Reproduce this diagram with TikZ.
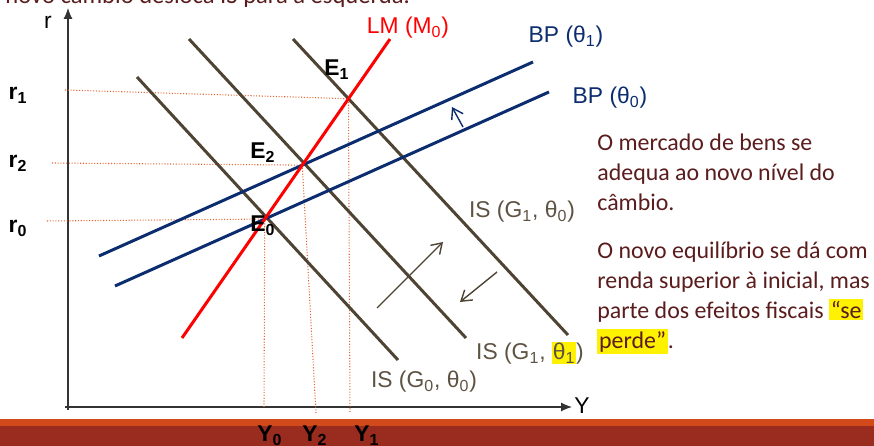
\documentclass[tikz,border=0pt]{standalone}
\usepackage{fontspec}
\setmainfont{Liberation Sans}
\newfontfamily\bodyfont{Carlito}
\usetikzlibrary{arrows.meta}
\definecolor{bpblue}{HTML}{0B2C6E}
\definecolor{isbrown}{HTML}{4F4434}
\definecolor{islabel}{HTML}{5E5343}
\definecolor{guide}{HTML}{E4622E}
\definecolor{bodytext}{HTML}{5A1C1C}
\definecolor{bandorange}{HTML}{D2491A}
\definecolor{banddark}{HTML}{9A2B1F}
\tikzset{
  axis/.style={-{Latex[length=2.2mm,width=1.8mm]}, line width=0.6pt, color=black!80},
  lmline/.style={line width=1.7pt, color=red},
  bpline/.style={line width=1.7pt, color=bpblue},
  isline/.style={line width=1.7pt, color=isbrown},
  shiftarrow/.style={-{Straight Barb[length=2mm,width=2.6mm]}, line width=0.8pt, color=isbrown},
  guideline/.style={densely dotted, line width=0.6pt, color=guide},
  axlabel/.style={font=\fontsize{13}{15}\selectfont\bfseries, inner sep=0pt},
  curvelabel/.style={font=\fontsize{13}{15}\selectfont, inner sep=0pt},
  bodypar/.style={font=\bodyfont\fontsize{13.6}{16.9}\selectfont, color=bodytext, align=left, inner sep=0pt, anchor=north west}
}

\begin{document}
\begin{tikzpicture}
\useasboundingbox (0,0) rectangle (17.48,8.92);
\fill[bandorange] (0,0.40) rectangle (17.48,0.54);
\fill[banddark] (0,0) rectangle (17.48,0.40);
\node[bodypar, font=\bodyfont\fontsize{14}{16}\selectfont, anchor=base west] (title) at (0.10,8.84) {novo câmbio desloca IS para a esquerda.};
\coordinate (O) at (1.36,0.78);
\coordinate (ytop) at (1.36,8.76);
\coordinate (xend) at (11.44,0.78);
\draw[axis] (1.36,0.72) -- (ytop);
\draw[axis] (1.30,0.78) -- (xend);
\node[curvelabel] (rlab) at (0.96,8.48) {r};
\node[curvelabel, anchor=west] (ylab) at (11.48,0.80) {Y};
\coordinate (lmA) at (3.64,2.16);
\coordinate (lmB) at (7.80,8.14);
\coordinate (bp0A) at (2.30,3.20);
\coordinate (bp0B) at (10.98,7.08);
\coordinate (bp1A) at (1.98,3.80);
\coordinate (bp1B) at (10.66,7.68);
\coordinate (is00A) at (2.74,7.38);
\coordinate (is00B) at (7.96,1.72);
\coordinate (is11A) at (3.78,8.14);
\coordinate (is11B) at (9.32,2.16);
\coordinate (is10A) at (5.86,8.14);
\coordinate (is10B) at (11.36,2.22);
\coordinate (E0) at (intersection of lmA--lmB and bp0A--bp0B);
\coordinate (E2) at (intersection of lmA--lmB and bp1A--bp1B);
\coordinate (E1) at (intersection of lmA--lmB and is10A--is10B);
\coordinate (r1start) at (1.30,7.12);
\coordinate (r2start) at (1.04,5.66);
\coordinate (r0start) at (0.94,4.50);
\coordinate (y1end) at (7.00,0.68);
\coordinate (y2end) at (6.32,0.66);
\coordinate (y0end) at (5.28,0.78);
\draw[guideline] (r1start) -- (E1) -- (y1end);
\draw[guideline] (r2start) -- (E2) -- (y2end);
\draw[guideline] (r0start) -- (E0) -- (y0end);
\draw[isline] (is00A) -- (is00B);
\draw[isline] (is11A) -- (is11B);
\draw[isline] (is10A) -- (is10B);
\draw[bpline] (bp0A) -- (bp0B);
\draw[bpline] (bp1A) -- (bp1B);
\draw[lmline] (lmA) -- (lmB);
\coordinate (upA) at (7.54,2.76);
\coordinate (upB) at (8.86,4.08);
\coordinate (downA) at (9.94,3.48);
\coordinate (downB) at (9.20,2.88);
\coordinate (bpshiftA) at (9.26,6.38);
\coordinate (bpshiftB) at (9.04,6.78);
\draw[shiftarrow] (upA) -- (upB);
\draw[shiftarrow] (downA) -- (downB);
\draw[shiftarrow, color=bpblue] (bpshiftA) -- (bpshiftB);
\node[axlabel] (r1) at (0.36,7.02) {r\textsubscript{1}};
\node[axlabel] (r2) at (0.36,5.66) {r\textsubscript{2}};
\node[axlabel] (r0) at (0.36,4.36) {r\textsubscript{0}};
\node[axlabel] (y0) at (5.40,0.20) {Y\textsubscript{0}};
\node[axlabel] (y2) at (6.30,0.20) {Y\textsubscript{2}};
\node[axlabel] (y1) at (7.34,0.20) {Y\textsubscript{1}};
\node[axlabel] (e1) at (6.74,7.52) {E\textsubscript{1}};
\node[axlabel] (e2) at (5.26,5.86) {E\textsubscript{2}};
\node[axlabel] (e0) at (5.26,4.40) {E\textsubscript{0}};
\node[curvelabel, red] (lmlab) at (8.16,8.36) {LM (M\textsubscript{0})};
\node[curvelabel, bpblue] (bp1lab) at (11.32,8.18) {BP (θ\textsubscript{1})};
\node[curvelabel, bpblue] (bp0lab) at (12.20,6.96) {BP (θ\textsubscript{0})};
\node[curvelabel, islabel] (is00lab) at (8.48,1.28) {IS (G\textsubscript{0}, θ\textsubscript{0})};
\node[curvelabel, islabel] (is11lab) at (10.60,1.86) {IS (G\textsubscript{1}, {\setlength{\fboxsep}{0.5pt}\colorbox{yellow}{θ\textsubscript{1}}})};
\node[curvelabel, islabel] (is10lab) at (10.44,4.68) {IS (G\textsubscript{1}, θ\textsubscript{0})};
\node[bodypar] (parA) at (11.94,6.24) {O mercado de bens se\\adequa ao novo nível do\\câmbio.};
\node[bodypar] (parB) at (11.94,4.08) {O novo equilíbrio se dá com\\renda superior à inicial, mas\\parte dos efeitos fiscais {\setlength{\fboxsep}{1pt}\colorbox{yellow}{“se}}\\{\setlength{\fboxsep}{1pt}\colorbox{yellow}{perde”}}.};
\end{tikzpicture}
\end{document}
